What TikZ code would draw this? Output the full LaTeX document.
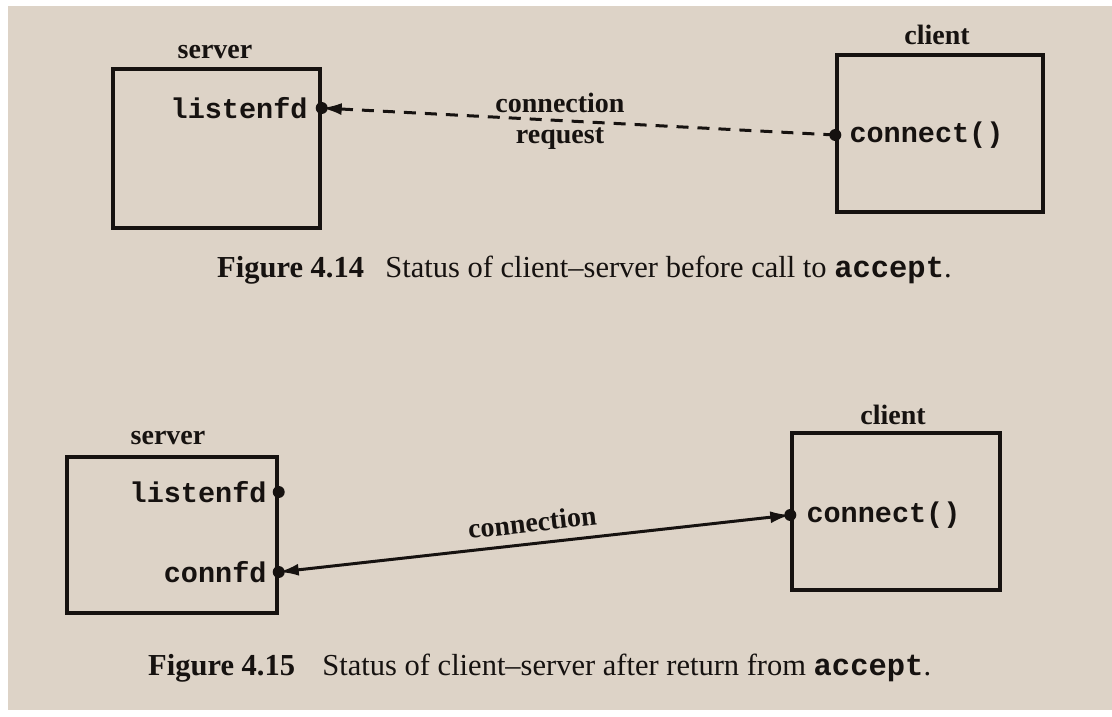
\documentclass[tikz,border=0pt]{standalone}
\usepackage{fontspec}
\setmainfont{Liberation Serif}
\setmonofont{Liberation Mono}
\usetikzlibrary{arrows.meta,calc}
\definecolor{paper}{RGB}{221,211,199}
\definecolor{ink}{RGB}{22,18,16}
\begin{document}
\begin{tikzpicture}[x=1pt,y=-1pt,
  >={Latex[length=20pt,width=12pt]},
  proc/.style={draw=ink,line width=3.4pt,inner sep=0pt},
  host/.style={font=\fontsize{28}{30}\selectfont\bfseries,text=ink,inner sep=0pt},
  port/.style={font=\ttfamily\bfseries\fontsize{28.5}{30}\selectfont,text=ink,inner sep=0pt},
  figcaption/.style={font=\fontsize{30.5}{34}\selectfont,text=ink,inner sep=0pt},
  wire/.style={draw=ink,line width=3pt},
  dot/.style={fill=ink}]
% page and its white edges
\fill[white] (0,0) rectangle (1112,716);
\fill[paper] (8,6) rectangle (1112,710);
\useasboundingbox (0,0) rectangle (1112,716);

% ---- Figure 4.14 ----
\node[proc,minimum width=207pt,minimum height=159pt] (srvA) at (216.5,148.5) {};
\node[proc,minimum width=206pt,minimum height=157pt] (cliA) at (940,133.5) {};
\node[host] (srvAl) at (215,52) {server};
\node[host] (cliAl) at (937,35) {client};
\coordinate (lfdA) at (srvA.east |- 0,108);
\coordinate (conA) at (cliA.west |- 0,135);
\node[port,anchor=east] (lfdAt) at ($(lfdA)+(-14,0)$) {listenfd};
\node[port,anchor=west] (conAt) at ($(conA)+(14,0)$) {connect()};
\draw[wire,dash pattern=on 12pt off 9pt,->] (conA) -- (lfdA);
\fill[dot] (lfdA) circle (6);
\fill[dot] (conA) circle (6);
\node[host] (reqA1) at (560,103) {connection};
\node[host] (reqA2) at (560,139) {request};
\node[figcaption,anchor=west] (capA) at (217,270) {{\bfseries Figure 4.14}\hspace{0.7em}Status of client--server before call to {\ttfamily\bfseries accept}.};

% ---- Figure 4.15 ----
\node[proc,minimum width=210pt,minimum height=156pt] (srvB) at (172,535) {};
\node[proc,minimum width=208pt,minimum height=157pt] (cliB) at (896,511.5) {};
\node[host] (srvBl) at (168,438) {server};
\node[host] (cliBl) at (893,415) {client};
\coordinate (lfdB) at (srvB.east |- 0,492);
\coordinate (cfdB) at (srvB.east |- 0,572);
\coordinate (conB) at (cliB.west |- 0,515);
\node[port,anchor=east] (lfdBt) at ($(lfdB)+(-12,0)$) {listenfd};
\node[port,anchor=east] (cfdBt) at ($(cfdB)+(-12,0)$) {connfd};
\node[port,anchor=west] (conBt) at ($(conB)+(16,0)$) {connect()};
\draw[wire,<->] (cfdB) -- (conB)
  node[host,midway,above=10pt,sloped] (conBl) {connection};
\fill[dot] (lfdB) circle (6);
\fill[dot] (cfdB) circle (6);
\fill[dot] (conB) circle (6);
\node[figcaption,anchor=west] (capB) at (148,668) {{\bfseries Figure 4.15}\hspace{0.9em}Status of client--server after return from {\ttfamily\bfseries accept}.};
\end{tikzpicture}
\end{document}
